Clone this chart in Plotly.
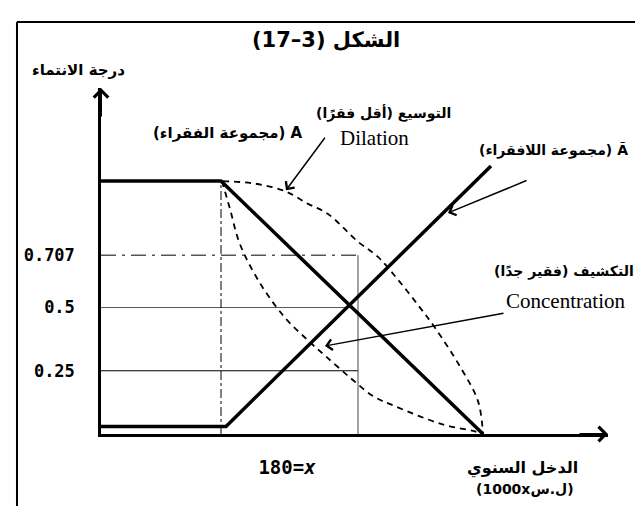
import plotly.graph_objects as go

# membership curves, x in income units, y = degree of membership
x_A = [0, 120, 382]
y_A = [1, 1, 0]
x_notA = [0, 125, 390]
y_notA = [0.03, 0.03, 1.06]

# dilation (less poor) and concentration (very poor)
x_dil = [122, 154, 184, 207, 227, 257, 277, 297, 317, 334, 360, 377, 382]
y_dil = [1.0, 0.99, 0.96, 0.91, 0.87, 0.76, 0.70, 0.61, 0.51, 0.42, 0.26, 0.13, 0.0]
x_con = [121, 129, 139, 160, 184, 207, 224, 250, 272, 294, 340, 374, 382]
y_con = [1.0, 0.89, 0.75, 0.59, 0.46, 0.37, 0.31, 0.22, 0.15, 0.11, 0.04, 0.01, 0.0]

levels = [0.707, 0.5, 0.25]
level_text = ["0.707", "0.5", "0.25"]
x_knee = 120
x_half = 257
x_mark = [186]
x_mark_text = ["180=<i>x</i>"]

AR = "DejaVu Sans"
SERIF = "Liberation Serif"
XMAX, YMAX = 507, 1.368

fig = go.Figure()

# guide lines
fig.add_trace(go.Scatter(x=[0, x_half], y=[levels[0]] * 2, mode="lines",
                         line=dict(color="black", width=1, dash="longdashdot"), cliponaxis=False))
fig.add_trace(go.Scatter(x=[0, x_half - 5], y=[levels[1]] * 2, mode="lines",
                         line=dict(color="#555", width=1), cliponaxis=False))
fig.add_trace(go.Scatter(x=[0, x_half], y=[levels[2]] * 2, mode="lines",
                         line=dict(color="black", width=1.2), cliponaxis=False))
fig.add_trace(go.Scatter(x=[x_knee, x_knee], y=[0, 1], mode="lines",
                         line=dict(color="black", width=1, dash="dashdot"), cliponaxis=False))
fig.add_trace(go.Scatter(x=[x_half, x_half], y=[0, levels[0]], mode="lines",
                         line=dict(color="#444", width=1), cliponaxis=False))

# hedges
fig.add_trace(go.Scatter(x=x_dil, y=y_dil, mode="lines", line_shape="spline",
                         line=dict(color="black", width=1.8, dash="6px,5px"), cliponaxis=False))
fig.add_trace(go.Scatter(x=x_con, y=y_con, mode="lines", line_shape="spline",
                         line=dict(color="black", width=1.8, dash="6px,5px"), cliponaxis=False))

# fuzzy sets
fig.add_trace(go.Scatter(x=x_A, y=y_A, mode="lines",
                         line=dict(color="black", width=3.5), cliponaxis=False))
fig.add_trace(go.Scatter(x=x_notA, y=y_notA, mode="lines",
                         line=dict(color="black", width=3.5), cliponaxis=False))

ann = []
# axis arrow heads
ann.append(dict(x=XMAX, y=0, xref="x", yref="y", ax=-30, ay=0, text="", showarrow=True,
                arrowhead=4, arrowsize=1.4, arrowwidth=2, arrowcolor="black"))
ann.append(dict(x=0, y=YMAX, xref="x", yref="y", ax=0, ay=30, text="", showarrow=True,
                arrowhead=4, arrowsize=1.4, arrowwidth=2, arrowcolor="black"))

# pointer arrows
ann.append(dict(x=185, y=0.964, xref="x", yref="y", ax=40, ay=-54, text="", showarrow=True,
                arrowhead=4, arrowsize=1.4, arrowwidth=1.5, arrowcolor="black"))
ann.append(dict(x=347, y=0.874, xref="x", yref="y", ax=80, ay=-33, text="", showarrow=True,
                arrowhead=4, arrowsize=1.4, arrowwidth=1.5, arrowcolor="black"))
ann.append(dict(x=224, y=0.348, xref="x", yref="y", ax=180, ay=-33, text="", showarrow=True,
                arrowhead=4, arrowsize=1.4, arrowwidth=1.5, arrowcolor="black"))


def label(x, y, text, size, family=AR, weight="bold"):
    # x, y in data units; placed on paper so labels outside the axes still show
    ann.append(dict(x=x / XMAX, y=y / YMAX, xref="paper", yref="paper", text=text,
                    showarrow=False, xanchor="center", yanchor="middle",
                    font=dict(family=family, size=size, color="black", weight=weight)))


label(225, 1.557, "(17–3) الشكل", 21)
label(-23, 1.439, "درجة الانتماء", 15)
label(282, 1.27, "(أقل فقرًا)\u200e التوسيع", 14)
label(273, 1.17, "Dilation", 21, SERIF, "normal")
label(127, 1.19, "(مجموعة الفقراء)\u200e A", 15)
label(452, 1.119, "(مجموعة اللافقراء)\u200e Ã", 14)
label(463, 0.644, "(فقير جدًا)\u200e التكشيف", 14)
label(464, 0.526, "Concentration", 21, SERIF, "normal")
label(421, -0.134, "الدخل السنوي", 16)
label(424, -0.217, "(1000xل.س)", 14)

fig.update_layout(
    width=643, height=506,
    margin=dict(l=93, r=43, t=80, b=80),
    plot_bgcolor="white", paper_bgcolor="white",
    showlegend=False,
    annotations=ann,
    xaxis=dict(range=[0, XMAX], showgrid=False, zeroline=False, showline=True,
               linecolor="black", linewidth=2.5, ticks="",
               tickmode="array", tickvals=x_mark, ticktext=x_mark_text, ticklabelstandoff=14,
               tickfont=dict(family="DejaVu Sans Mono", size=19, color="black", weight="bold")),
    yaxis=dict(range=[0, YMAX], showgrid=False, zeroline=False, showline=True,
               linecolor="black", linewidth=2.5, ticks="",
               tickmode="array", tickvals=levels, ticktext=level_text, ticklabelstandoff=20,
               tickfont=dict(family="DejaVu Sans Mono", size=17, color="black", weight="bold")),
    shapes=[
        dict(type="line", xref="paper", yref="paper", x0=-0.1657, x1=-0.1657, y0=-0.24, y1=1.191,
             line=dict(color="black", width=2)),
        dict(type="line", xref="paper", yref="paper", x0=-0.1657, x1=1.09, y0=1.191, y1=1.191,
             line=dict(color="black", width=2)),
    ],
)

fig.write_html("out.html")
